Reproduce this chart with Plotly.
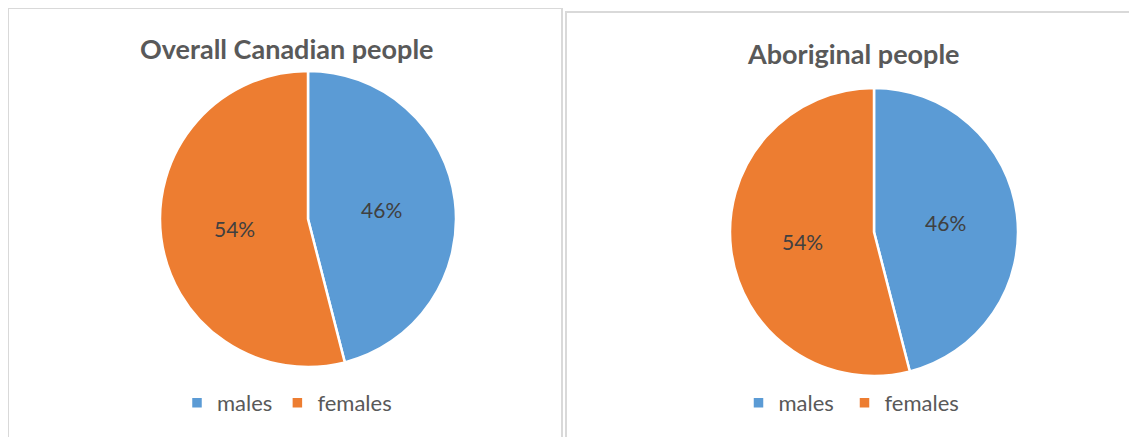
import plotly.graph_objects as go

W, H = 1137, 437
OFF = 8  # default page body margin

labels = ["males", "females"]
overall_values = [46, 54]
aboriginal_values = [46, 54]
titles = ["Overall Canadian people", "Aboriginal people"]
colors = ["#5B9BD5", "#ED7D31"]

def px_x(v):
    return (v - OFF) / W

def px_y(v):
    return (H - (v - OFF)) / H

fig = go.Figure()

fig.add_trace(go.Pie(
    labels=labels, values=overall_values, sort=False, direction="clockwise",
    rotation=0, marker=dict(colors=colors, line=dict(color="white", width=2.5)),
    texttemplate="%{percent:.0%}", textposition="inside",
    insidetextorientation="horizontal",
    textfont=dict(family="Lato", size=21, color="#404040"),
    domain=dict(x=[px_x(160), px_x(456)], y=[px_y(367), px_y(71)]),
    hoverinfo="label+percent", legend="legend",
))
# trailing space keeps legend entries distinct from the first pie
fig.add_trace(go.Pie(
    labels=[l + " " for l in labels], values=aboriginal_values, sort=False, direction="clockwise",
    rotation=0, marker=dict(colors=colors, line=dict(color="white", width=2.5)),
    texttemplate="%{percent:.0%}", textposition="inside",
    insidetextorientation="horizontal",
    textfont=dict(family="Lato", size=21, color="#404040"),
    domain=dict(x=[px_x(730), px_x(1018)], y=[px_y(377), px_y(87)]),
    hoverinfo="label+percent", legend="legend2",
))

legend_common = dict(orientation="h", font=dict(family="Lato", size=22, color="#595959"),
                     bgcolor="rgba(0,0,0,0)", yanchor="middle", xanchor="center",
                     itemwidth=30, tracegroupgap=0)
fig.update_layout(
    width=W, height=H,
    margin=dict(l=0, r=0, t=0, b=0),
    paper_bgcolor="white", plot_bgcolor="white",
    font=dict(family="Lato"),
    legend=dict(x=px_x(287), y=px_y(403), **legend_common),
    legend2=dict(x=px_x(854), y=px_y(403), **legend_common),
    annotations=[
        dict(text="<b>" + titles[0] + "</b>", x=px_x(287), y=px_y(48), xref="paper", yref="paper",
             showarrow=False, xanchor="center", yanchor="middle",
             font=dict(family="Lato", size=27, color="#595959")),
        dict(text="<b>" + titles[1] + "</b>", x=px_x(853), y=px_y(53), xref="paper", yref="paper",
             showarrow=False, xanchor="center", yanchor="middle",
             font=dict(family="Lato", size=27, color="#595959")),
    ],
    shapes=[
        dict(type="rect", xref="paper", yref="paper", x0=px_x(8), x1=px_x(562), y0=px_y(460), y1=px_y(8),
             line=dict(color="#D9D9D9", width=2), fillcolor="rgba(0,0,0,0)"),
        dict(type="rect", xref="paper", yref="paper", x0=px_x(566), x1=px_x(1160), y0=px_y(460), y1=px_y(12),
             line=dict(color="#D9D9D9", width=2), fillcolor="rgba(0,0,0,0)"),
    ],
)

fig.write_html("out.html")
